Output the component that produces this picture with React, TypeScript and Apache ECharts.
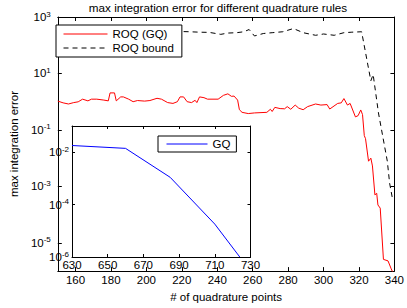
import React, { useEffect, useRef } from 'react';
import * as echarts from 'echarts';

// ROQ (GQ) — max integration error vs number of quadrature points
const roqX = [150, 153, 156, 159, 161.5, 164, 167, 169, 172, 176, 178.5, 179.5, 182, 183, 185.5, 187, 190, 192.5, 195, 199, 202, 206, 208.5, 212, 215, 217.5, 219, 221, 223, 225.5, 227.5, 228.5, 230, 232.5, 234.5, 240.5, 243.5, 246, 248, 249.5, 251.5, 252.5, 254, 257.5, 261, 268, 270, 271, 272.5, 275.5, 278, 279.5, 281.5, 284, 286, 288.5, 291, 295.5, 298.5, 302, 303.5, 308, 310, 311.5, 313.5, 315, 318, 319.5, 321, 322, 323, 323.7, 325.4, 326.7, 327.6, 329, 330, 330.7, 332, 333.8, 336.4, 338.2, 339.5];
const roqY = [1.05, 0.91, 0.83, 0.93, 0.99, 1.23, 1.07, 1.23, 1.23, 1.14, 1.07, 2.05, 2.05, 1.07, 1.48, 1.48, 1.23, 1.0, 1.1, 1.05, 1.1, 1.32, 1.23, 0.93, 0.87, 1.0, 1.48, 1.48, 1.0, 0.93, 1.12, 0.93, 1.48, 1.39, 1.23, 1.23, 1.68, 1.9, 1.55, 1.58, 1.14, 0.52, 0.42, 0.38, 0.4, 0.42, 0.54, 0.45, 0.63, 0.57, 0.56, 0.67, 0.54, 0.76, 0.59, 0.52, 0.67, 0.83, 0.76, 0.79, 0.55, 0.87, 0.91, 1.29, 0.76, 0.87, 0.29, 0.32, 0.51, 0.35, 0.063, 0.049, 0.0078, 0.01, 0.0053, 5e-4, 5.7e-4, 2.2e-4, 1.7e-4, 2.6e-6, 2.3e-6, 1.2e-6, 8e-7];

// ROQ bound
const boundX = [150, 155, 160, 170, 180, 190, 200, 210, 220, 224.5, 230, 235.5, 242, 246, 251, 255, 258, 261, 266, 271, 277, 283, 288.5, 292, 295.5, 300, 306, 311.5, 316, 321.5, 326.7, 328, 331, 336, 337.3, 339];
const boundY = [316, 300, 320, 290, 310, 300, 320, 290, 305, 300, 290, 285, 243, 270, 278, 300, 360, 213, 260, 278, 300, 390, 278, 250, 225, 250, 225, 278, 290, 300, 5.5, 9.2, 0.4, 0.0078, 0.0013, 3.4e-4];

// Inset: GQ
const gqX = [630, 660, 685, 710, 724];
const gqY = [1.8e-2, 1.4e-2, 1.1e-3, 1.8e-5, 1e-6];

const mainXTicks = [160, 180, 200, 220, 240, 260, 280, 300, 320, 340];
const mainYExpTicks = [-5, -3, -1, 1, 3];
const insetXTicks = [630, 650, 670, 690, 710, 730];
const insetYExpTicks = [-6, -4, -2];

const FONT = "'Liberation Sans', Arial, Helvetica, sans-serif";
const FS = 11.5;

const richSup = {
  b: { fontSize: FS, fontFamily: FONT, color: '#000', lineHeight: 14 },
  s: { fontSize: 8, fontFamily: FONT, color: '#000', lineHeight: 6, verticalAlign: 'top' as const },
};
const expLabel = (v: number) => `{b|10}{s|${Math.round(v)}}`;

const toLog = (xs: number[], ys: number[]) => xs.map((x, i) => [x, Math.log10(ys[i])]);

export default function App() {
  const ref = useRef<HTMLDivElement>(null);
  useEffect(() => {
    if (!ref.current) return;
    const chart = echarts.init(ref.current, undefined, { renderer: 'svg' });
    const axisLine = { show: true, onZero: false, lineStyle: { color: '#000', width: 1 } };
    const labelBase = { color: '#000', fontSize: FS, fontFamily: FONT };
    const tick = (len: number, vals: number[]) => ({
      show: true,
      inside: true,
      length: len,
      customValues: vals,
      lineStyle: { color: '#000' },
    });
    const legendBase = {
      orient: 'vertical',
      backgroundColor: '#fff',
      borderColor: '#000',
      borderWidth: 1,
      borderRadius: 0,
      selectedMode: false,
      itemHeight: 12,
      itemStyle: { opacity: 0 },
      lineStyle: { width: 1 },
      textStyle: { color: '#000', fontSize: FS, fontFamily: FONT },
      z: 10,
    };
    chart.setOption({
      animation: false,
      backgroundColor: '#fff',
      textStyle: { fontFamily: FONT },
      grid: [
        { left: 39.5, right: 10.5, top: 17, bottom: 28, containLabel: false },
        { left: 72, right: 156.5, top: 126, bottom: 51, containLabel: false },
      ],
      graphic: [
        {
          type: 'text',
          x: 218,
          y: 7,
          style: {
            text: 'max integration error for different quadrature rules',
            fontSize: 11.7,
            fontFamily: FONT,
            fill: '#000',
            textAlign: 'center',
            textVerticalAlign: 'middle',
          },
        },
      ],
      legend: [
        {
          ...legendBase,
          data: ['ROQ (GQ)', 'ROQ bound'],
          left: 56,
          top: 25,
          padding: [3, 8, 3, 7],
          itemGap: 2,
          itemWidth: 44,
        },
        {
          ...legendBase,
          data: ['GQ'],
          left: 158,
          top: 136,
          padding: [2, 6, 2, 8],
          itemWidth: 41,
        },
      ],
      xAxis: [
        {
          gridIndex: 0,
          type: 'value',
          min: 150,
          max: 340,
          position: 'bottom',
          axisLine,
          axisTick: tick(4, mainXTicks),
          axisLabel: { ...labelBase, margin: 3, customValues: mainXTicks },
          splitLine: { show: false },
          name: '# of quadrature points',
          nameLocation: 'middle',
          nameGap: 15,
          nameTextStyle: { ...labelBase },
        },
        {
          gridIndex: 1,
          type: 'value',
          min: 630,
          max: 730,
          position: 'bottom',
          axisLine,
          axisTick: tick(3, insetXTicks),
          axisLabel: { ...labelBase, margin: 2, customValues: insetXTicks },
          splitLine: { show: false },
        },
        {
          gridIndex: 0,
          type: 'value',
          min: 150,
          max: 340,
          position: 'top',
          axisLine,
          axisTick: tick(4, mainXTicks),
          axisLabel: { show: false },
          splitLine: { show: false },
        },
        {
          gridIndex: 1,
          type: 'value',
          min: 630,
          max: 730,
          position: 'top',
          axisLine,
          axisTick: tick(3, insetXTicks),
          axisLabel: { show: false },
          splitLine: { show: false },
        },
      ],
      yAxis: [
        {
          gridIndex: 0,
          type: 'value',
          min: -6,
          max: 3,
          position: 'left',
          axisLine,
          axisTick: tick(4, mainYExpTicks),
          axisLabel: { margin: 7, customValues: mainYExpTicks, formatter: expLabel, rich: richSup },
          splitLine: { show: false },
          name: 'max integration error',
          nameLocation: 'middle',
          nameGap: 36,
          nameTextStyle: { ...labelBase },
        },
        {
          gridIndex: 1,
          type: 'value',
          min: -6,
          max: -1,
          position: 'left',
          axisLine,
          axisTick: tick(3, insetYExpTicks),
          axisLabel: { margin: 3, customValues: insetYExpTicks, formatter: expLabel, rich: richSup },
          splitLine: { show: false },
        },
        {
          gridIndex: 0,
          type: 'value',
          min: -6,
          max: 3,
          position: 'right',
          axisLine,
          axisTick: tick(4, mainYExpTicks),
          axisLabel: { show: false },
          splitLine: { show: false },
        },
        {
          gridIndex: 1,
          type: 'value',
          min: -6,
          max: -1,
          position: 'right',
          axisLine,
          axisTick: tick(3, insetYExpTicks),
          axisLabel: { show: false },
          splitLine: { show: false },
        },
      ],
      series: [
        {
          name: 'ROQ (GQ)',
          type: 'line',
          xAxisIndex: 0,
          yAxisIndex: 0,
          data: toLog(roqX, roqY),
          symbol: 'none',
          color: '#ff0000',
          lineStyle: { color: '#ff0000', width: 1 },
          clip: true,
        },
        {
          name: 'ROQ bound',
          type: 'line',
          xAxisIndex: 0,
          yAxisIndex: 0,
          data: toLog(boundX, boundY),
          symbol: 'none',
          color: '#000',
          lineStyle: { color: '#000', width: 1, type: [5, 4] },
          clip: true,
        },
        {
          name: 'GQ',
          type: 'line',
          xAxisIndex: 1,
          yAxisIndex: 1,
          data: toLog(gqX, gqY),
          symbol: 'none',
          color: '#0000ff',
          lineStyle: { color: '#0000ff', width: 1 },
          clip: true,
          z: 5,
        },
      ],
    });
    return () => chart.dispose();
  }, []);
  return <div ref={ref} style={{ position: 'absolute', left: 0, top: 0, width: 407, height: 308 }} />;
}
